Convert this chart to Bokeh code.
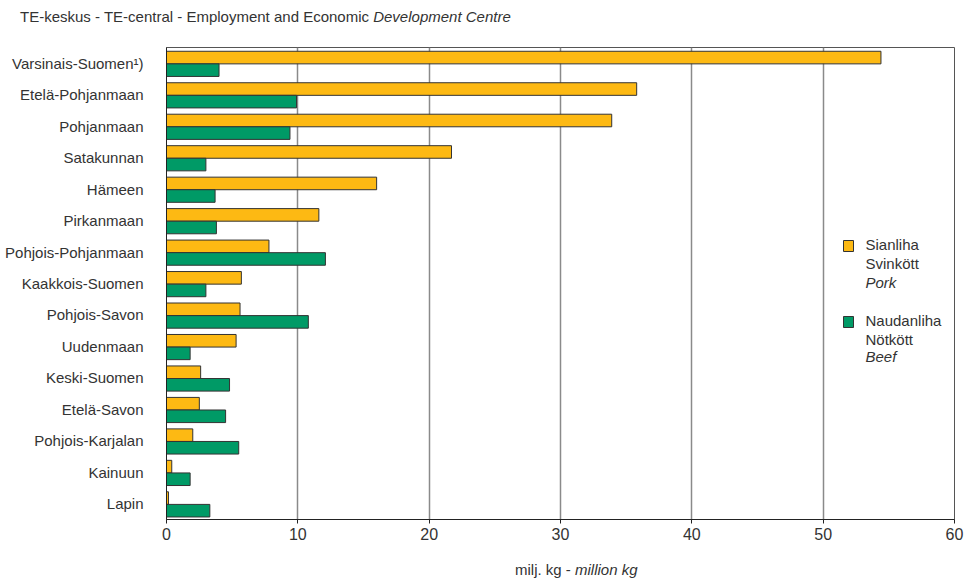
from bokeh.plotting import figure
from bokeh.models import FactorRange, Label, BoxAnnotation, FixedTicker, Div
from bokeh.layouts import column
from bokeh.transform import dodge
from bokeh.embed import file_html
from bokeh.resources import INLINE

regions = ["Varsinais-Suomen\u00b9)", "Etel\u00e4-Pohjanmaan", "Pohjanmaan", "Satakunnan", "H\u00e4meen",
           "Pirkanmaan", "Pohjois-Pohjanmaan", "Kaakkois-Suomen", "Pohjois-Savon", "Uudenmaan",
           "Keski-Suomen", "Etel\u00e4-Savon", "Pohjois-Karjalan", "Kainuun", "Lapin"]
pork = [54.4, 35.8, 33.9, 21.7, 16.0, 11.6, 7.8, 5.7, 5.6, 5.3, 2.6, 2.5, 2.0, 0.4, 0.15]
beef = [4.0, 9.9, 9.4, 3.0, 3.7, 3.8, 12.1, 3.0, 10.8, 1.8, 4.8, 4.5, 5.5, 1.8, 3.3]
x_ticks = [0, 10, 20, 30, 40, 50, 60]

title_main = "TE-keskus - TE-central - Employment and Economic"
title_it = "Development Centre"
xlab_main = "milj. kg -"
xlab_it = "million kg"

FONT = "Liberation Sans"
TXT = "#333333"
PORK_C = "#FDB913"
BEEF_C = "#009A66"

p = figure(width=965, height=521, output_backend="svg", toolbar_location=None,
           y_range=FactorRange(factors=list(reversed(regions))), x_range=(0, 60),
           min_border_left=166, min_border_right=11, min_border_top=21, min_border_bottom=28)

src = dict(region=regions, pork=pork, beef=beef)
p.hbar(y=dodge("region", 0.18, range=p.y_range), right="pork", left=0, height=0.4,
       source=src, fill_color=PORK_C, line_color="#333333", line_width=1)
p.hbar(y=dodge("region", -0.22, range=p.y_range), right="beef", left=0, height=0.4,
       source=src, fill_color=BEEF_C, line_color="#333333", line_width=1)

p.outline_line_color = "#555555"
p.outline_line_width = 1
p.ygrid.grid_line_color = None
p.xgrid.grid_line_color = "#8a8a8a"
p.xgrid.grid_line_width = 1.5
p.xaxis.ticker = FixedTicker(ticks=x_ticks)
p.xaxis.minor_tick_line_color = None
p.xaxis.major_tick_out = 4
p.xaxis.major_tick_in = 0
p.xaxis.axis_line_color = "#222222"
p.xaxis.major_tick_line_color = "#222222"
p.xaxis.major_label_text_font = FONT
p.xaxis.major_label_text_font_size = "16px"
p.xaxis.major_label_text_color = TXT
p.xaxis.major_label_standoff = 4

p.yaxis.major_tick_line_color = None
p.yaxis.minor_tick_line_color = None
p.yaxis.axis_line_color = "#222222"
p.yaxis.major_label_text_font = FONT
p.yaxis.major_label_text_font_size = "15px"
p.yaxis.major_label_text_color = TXT
p.yaxis.major_label_standoff = 17

def lab(text, sx, sy, size="15px", style="normal"):
    p.add_layout(Label(x=sx, y=sy, x_units="screen", y_units="screen", text=text,
                       text_font=FONT, text_font_size=size, text_font_style=style,
                       text_color=TXT, text_baseline="middle", text_align="left"))

# legend
lab("Sianliha", 699, 275)
lab("Svink\u00f6tt", 699, 256)
lab("Pork", 699, 237, "15px", "italic")
lab("Naudanliha", 699, 199)
lab("N\u00f6tk\u00f6tt", 699, 180)
lab("Beef", 699, 163, "15px", "italic")
p.add_layout(BoxAnnotation(left=677, right=687, bottom=268, top=279,
                           left_units="screen", right_units="screen", top_units="screen", bottom_units="screen",
                           fill_color=PORK_C, fill_alpha=1, line_color="#333333", line_alpha=1, line_width=1))
p.add_layout(BoxAnnotation(left=677, right=687, bottom=192, top=203,
                           left_units="screen", right_units="screen", top_units="screen", bottom_units="screen",
                           fill_color=BEEF_C, fill_alpha=1, line_color="#333333", line_alpha=1, line_width=1))

title_div = Div(text=(f'<div style="font-family:\'{FONT}\';font-size:15px;color:{TXT};'
                      f'line-height:18px;margin:0;padding:8px 0 0 20px;white-space:nowrap">'
                      f'{title_main} <i>{title_it}</i></div>'),
                width=965, height=26, margin=(0, 0, 0, 0))
xlab_div = Div(text=(f'<div style="font-family:\'{FONT}\';font-size:15px;color:{TXT};'
                     f'line-height:18px;margin:0;padding:14px 0 0 515px;white-space:nowrap">'
                     f'{xlab_main} <i>{xlab_it}</i></div>'),
               width=965, height=34, margin=(0, 0, 0, 0))

layout = column(title_div, p, xlab_div, spacing=0)
open("out.html", "w").write(file_html(layout, INLINE))
